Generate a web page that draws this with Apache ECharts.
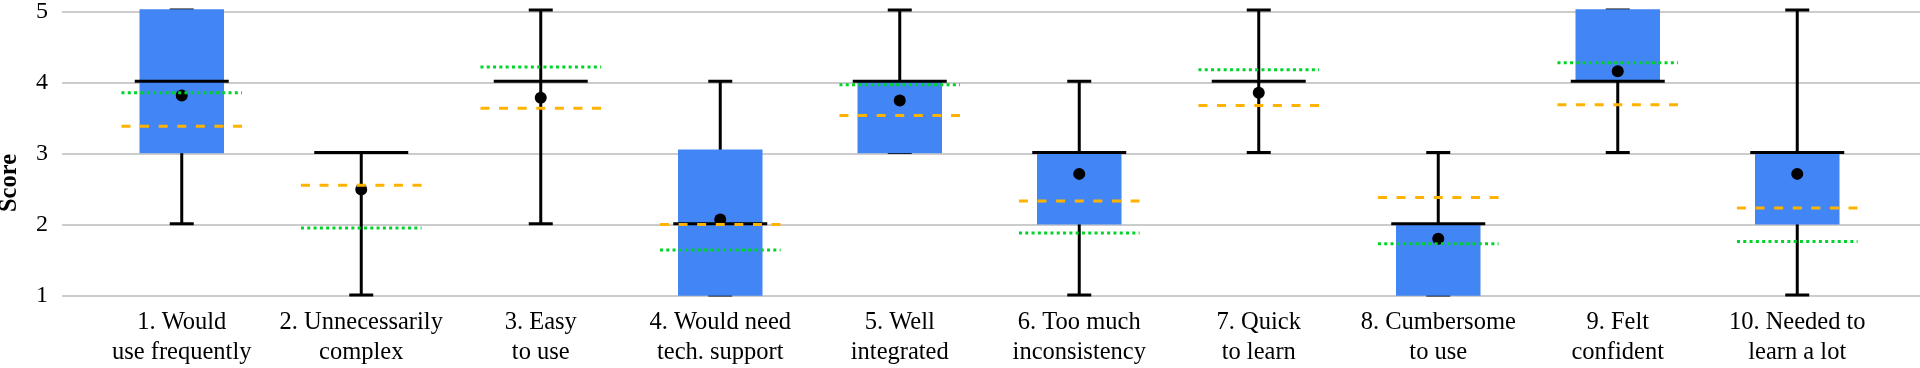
<!DOCTYPE html>
<html>
<head>
<meta charset="utf-8">
<script src="https://cdn.jsdelivr.net/npm/echarts@6/dist/echarts.min.js"></script>
<style>
html,body{margin:0;padding:0;background:#fff;}
#chart{width:1920px;height:368px;}
</style>
</head>
<body>
<div id="chart"></div>
<script>
// ---- data ----
var categories = [
  '1. Would\nuse frequently', '2. Unnecessarily\ncomplex', '3. Easy\nto use',
  '4. Would need\ntech. support', '5. Well\nintegrated', '6. Too much\ninconsistency',
  '7. Quick\nto learn', '8. Cumbersome\nto use', '9. Felt\nconfident', '10. Needed to\nlearn a lot'
];
var minVals    = [2, 1, 2, 1, 3, 1, 3, 1, 3, 1];
var q1Vals     = [3, 3, 4, 1, 3, 2, 4, 1, 4, 2];
var medianVals = [4, 3, 4, 2, 4, 3, 4, 2, 4, 3];
var q3Vals     = [5, 3, 4, 3.03, 4, 3, 4, 2, 5, 3];
var maxVals    = [5, 3, 5, 4, 5, 4, 5, 3, 5, 5];
var meanVals   = [3.80, 2.48, 3.77, 2.06, 3.73, 2.70, 3.84, 1.79, 4.14, 2.70];
var dashedVals = [3.37, 2.54, 3.62, 1.99, 3.52, 2.32, 3.66, 2.37, 3.67, 2.22];
var dottedVals = [3.84, 1.94, 4.20, 1.63, 3.95, 1.87, 4.16, 1.72, 4.26, 1.75];
var yTicks = [1, 2, 3, 4, 5];

var seriesData = categories.map(function (c, i) {
  return [i, minVals[i], q1Vals[i], medianVals[i], q3Vals[i], maxVals[i], meanVals[i], dashedVals[i], dottedVals[i]];
});

var FONT = '"Liberation Serif", "Times New Roman", serif';
var BLUE = '#4285F4', GREEN = '#00D42A', ORANGE = '#FFB300';

function renderItem(params, api) {
  var i = api.value(0);
  var x = api.coord([i, api.value(3)])[0];
  function Y(v) { return api.coord([i, v])[1]; }
  var vmin = api.value(1), q1 = api.value(2), med = api.value(3), q3 = api.value(4),
      vmax = api.value(5), mean = api.value(6), dashed = api.value(7), dotted = api.value(8);
  var children = [];
  var blk = {stroke: '#000', lineWidth: 3};
  // whisker
  children.push({type: 'line', shape: {x1: x, y1: Y(vmax), x2: x, y2: Y(vmin)}, style: blk});
  children.push({type: 'line', shape: {x1: x - 12, y1: Y(vmax), x2: x + 12, y2: Y(vmax)}, style: blk});
  children.push({type: 'line', shape: {x1: x - 12, y1: Y(vmin), x2: x + 12, y2: Y(vmin)}, style: blk});
  // box
  if (q3 > q1) {
    children.push({type: 'rect', shape: {x: x - 41.5, y: Y(q3), width: 83, height: Y(q1) - Y(q3)},
      style: {fill: BLUE, stroke: BLUE, lineWidth: 1.5}});
  }
  // median
  children.push({type: 'line', shape: {x1: x - 47, y1: Y(med), x2: x + 47, y2: Y(med)}, style: blk});
  // mean
  children.push({type: 'circle', shape: {cx: x, cy: Y(mean), r: 6}, style: {fill: '#000'}});
  // dotted (green)
  children.push({type: 'line', shape: {x1: x - 60.3, y1: Y(dotted), x2: x + 60.3, y2: Y(dotted)},
    style: {stroke: GREEN, lineWidth: 3, lineDash: [3, 3.3], lineCap: 'butt'}});
  // dashed (orange)
  children.push({type: 'line', shape: {x1: x - 60.3, y1: Y(dashed), x2: x + 60.3, y2: Y(dashed)},
    style: {stroke: ORANGE, lineWidth: 3, lineDash: [9, 9.6], lineCap: 'butt'}});
  return {type: 'group', children: children};
}

var chart = echarts.init(document.getElementById('chart'), null, {renderer: 'canvas'});
chart.setOption({
  animation: false,
  backgroundColor: '#fff',
  textStyle: {fontFamily: FONT},
  grid: [
    {left: 62, right: 0, top: 10, bottom: 72},
    {left: 92, right: 33, top: 10, bottom: 72}
  ],
  xAxis: [
    {gridIndex: 0, type: 'value', min: 0, max: 1, show: false},
    {gridIndex: 1, type: 'category', data: categories,
      axisLine: {show: false}, axisTick: {show: false},
      axisLabel: {interval: 0, color: '#000', fontFamily: FONT, fontSize: 24.5, lineHeight: 30, margin: 13}}
  ],
  yAxis: [
    {gridIndex: 0, type: 'value', min: yTicks[0], max: yTicks[yTicks.length - 1], interval: 1,
      axisLine: {show: false}, axisTick: {show: false},
      splitLine: {show: true, lineStyle: {color: '#cccccc', width: 2}},
      axisLabel: {color: '#000', fontFamily: FONT, fontSize: 24, margin: 14}},
    {gridIndex: 1, type: 'value', min: yTicks[0], max: yTicks[yTicks.length - 1], interval: 1, show: false}
  ],
  graphic: [{
    type: 'text',
    rotation: Math.PI / 2,
    x: 10, y: 183,
    style: {text: 'Score', font: 'bold 24.5px ' + FONT, fill: '#000', align: 'center', verticalAlign: 'middle'}
  }],
  series: [{
    type: 'custom', xAxisIndex: 1, yAxisIndex: 1,
    renderItem: renderItem,
    encode: {x: 0, y: [1, 2, 3, 4, 5, 6, 7, 8]},
    data: seriesData,
    clip: false
  }]
});
</script>
</body>
</html>
